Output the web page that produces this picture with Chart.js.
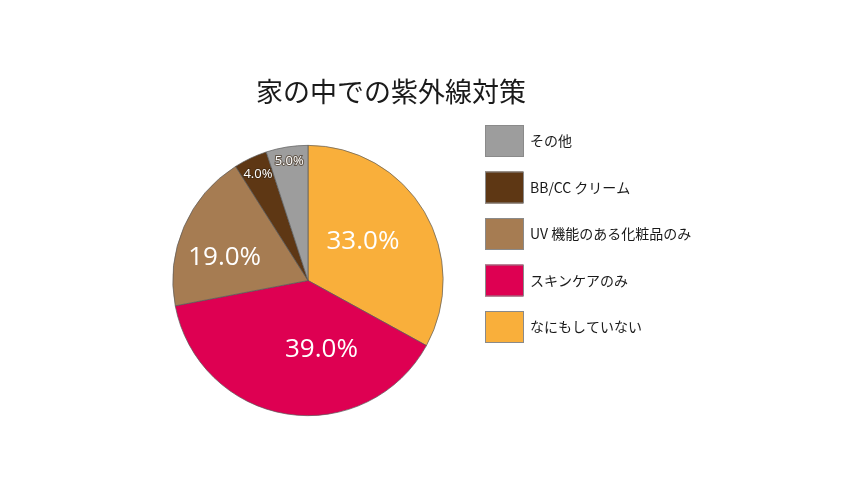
<!DOCTYPE html>
<html>
<head>
<meta charset="utf-8">
<script src="https://cdn.jsdelivr.net/npm/chart.js@4"></script>
<style>
  html, body { margin:0; padding:0; background:#fff; }
  #wrap { width:850px; height:478px; position:relative; }
</style>
</head>
<body>
<div id="wrap"><canvas id="c" width="850" height="478"></canvas></div>
<script>
// data
const TITLE = '家の中での紫外線対策';
const labels = ['なにもしていない', 'スキンケアのみ', 'UV 機能のある化粧品のみ', 'BB/CC クリーム', 'その他'];
const values = [33.0, 39.0, 19.0, 4.0, 5.0];
const colors = ['#F9AF3B', '#DE0052', '#A67C52', '#5E3714', '#9D9D9D'];

// label placement (fraction of radius, angle nudge in deg) and font size
const labelRadius = [0.5, 0.52, 0.64, 0.87, 0.89];
const labelNudge = [-5, -20, -8, 0, 0];
const labelSize = [26, 26, 26, 13, 13];

const pieLabels = {
  id: 'pieLabels',
  afterDatasetsDraw(chart) {
    const { ctx } = chart;
    const meta = chart.getDatasetMeta(0);
    ctx.save();
    ctx.textAlign = 'center';
    ctx.textBaseline = 'middle';
    meta.data.forEach((arc, i) => {
      const a = (arc.startAngle + arc.endAngle) / 2 + labelNudge[i] * Math.PI / 180;
      const r = arc.outerRadius * labelRadius[i];
      const x = arc.x + Math.cos(a) * r, y = arc.y + Math.sin(a) * r;
      ctx.font = `${labelSize[i]}px "Open Sans", "Noto Sans", sans-serif`;
      if (labelSize[i] < 20) {
        ctx.lineWidth = 2; ctx.strokeStyle = 'rgba(60,40,20,0.6)';
        ctx.strokeText(values[i].toFixed(1) + '%', x, y);
      }
      ctx.fillStyle = '#fff';
      ctx.fillText(values[i].toFixed(1) + '%', x, y);
    });
    ctx.restore();
  }
};

const sideParts = {
  id: 'sideParts',
  afterDraw(chart) {
    const { ctx } = chart;
    ctx.save();
    // title
    ctx.fillStyle = '#1a1a1a';
    ctx.font = '27px "Noto Sans CJK JP", sans-serif';
    ctx.textAlign = 'center';
    ctx.textBaseline = 'middle';
    ctx.fillText(TITLE, 391, 92);
    // legend (reverse order)
    ctx.textAlign = 'left';
    ctx.font = '14px "Noto Sans CJK JP", sans-serif';
    const order = labels.map((_, i) => i).reverse();
    order.forEach((i, k) => {
      const y = 125 + k * 46.5;
      ctx.fillStyle = colors[i];
      ctx.fillRect(485, y, 38, 32);
      ctx.strokeStyle = '#8a8a8a';
      ctx.lineWidth = 1;
      ctx.strokeRect(485.5, y + 0.5, 38, 31);
      ctx.fillStyle = '#1a1a1a';
      ctx.fillText(labels[i], 530, y + 16);
    });
    ctx.restore();
  }
};

new Chart(document.getElementById('c'), {
  type: 'pie',
  data: {
    labels,
    datasets: [{ data: values, backgroundColor: colors, borderColor: '#5a5a5a', borderWidth: 0.7 }]
  },
  options: {
    responsive: false,
    animation: false,
    layout: { padding: { left: 172, right: 406, top: 145, bottom: 62 } },
    plugins: { legend: { display: false }, tooltip: { enabled: false }, title: { display: false } }
  },
  plugins: [pieLabels, sideParts]
});
</script>
</body>
</html>
